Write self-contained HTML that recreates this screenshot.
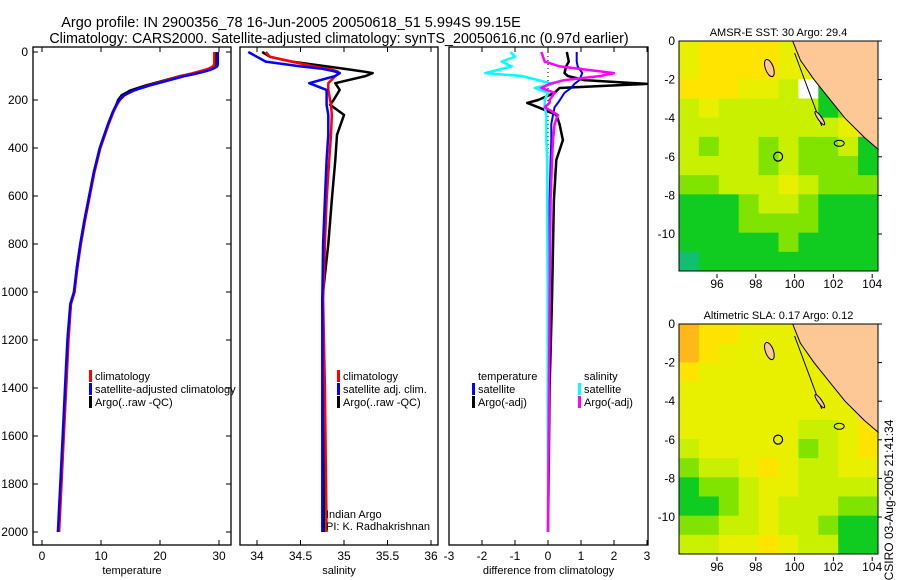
<!DOCTYPE html>
<html><head><meta charset="utf-8"><style>
body{margin:0;background:#fff;}
svg{display:block;font-family:"Liberation Sans",sans-serif;}
</style></head><body>
<svg id="c" width="900" height="580" viewBox="0 0 900 580">
<text x="291" y="27" font-size="14.5" text-anchor="middle">Argo profile: IN 2900356_78 16-Jun-2005 20050618_51 5.994S 99.15E</text>
<text x="339" y="43" font-size="14.3" text-anchor="middle">Climatology: CARS2000. Satellite-adjusted climatology: synTS_20050616.nc (0.97d earlier)</text>
<text transform="translate(893,500) rotate(-90)" font-size="12" text-anchor="middle">CSIRO 03-Aug-2005 21:41:34</text>
<g id="g"></g>
</svg>
<script>
// ---------- data ----------
const tDepth=[0,50,60,70,80,90,100,120,140,160,180,200,220,250,300,400,500,600,700,800,900,1000,1050,1200,1400,1600,1800,2000];
const tempArgo=[29.6,29.6,29.4,28.5,27,25.5,23.5,20.5,17.5,15,13.5,12.9,12.6,12,11.2,9.8,8.8,8.0,7.2,6.5,5.9,5.5,4.9,4.4,4.0,3.6,3.2,2.8];
const tempClim=[29.2,29.2,29.0,28.2,26.8,25.3,23.6,20.8,18,15.6,14,13.2,12.7,12.1,11.3,9.9,8.9,8.1,7.3,6.6,6.0,5.5,4.9,4.5,4.1,3.7,3.3,2.9];
const tempSat=[29.8,29.8,29.7,29.0,27.8,26.2,24.2,21.2,18.2,15.6,13.9,13.1,12.6,12.0,11.2,9.8,8.8,8.0,7.2,6.5,5.9,5.4,4.8,4.3,3.9,3.5,3.1,2.7];
const sDepth=[0,20,40,60,70,80,88,100,130,158,200,220,262,345,450,617,800,1030,1400,2000];
const salArgo=[34.06,34.15,34.4,34.8,35.0,35.2,35.33,35.25,34.9,34.95,34.88,34.84,35.0,34.92,34.9,34.86,34.82,34.75,34.77,34.77];
const salClim=[34.1,34.15,34.4,34.65,34.82,34.92,34.95,34.9,34.82,34.82,34.84,34.85,34.86,34.85,34.83,34.8,34.78,34.76,34.78,34.8];
const salSat=[33.9,34.0,34.1,34.5,34.75,34.88,34.95,34.9,34.6,34.8,34.8,34.8,34.82,34.82,34.8,34.78,34.76,34.75,34.75,34.75];
const dDepth=[0,20,40,60,88,100,117,133,150,170,200,212,230,262,300,367,450,617,1030,1400,2000];
const dTempSat=[0.87,0.87,0.87,0.9,1.04,1.0,0.95,0.8,0.7,0.5,0.36,0.3,0.2,0.15,0.1,0.1,0.08,0.05,0.03,0.02,0.0];
const dTempArgo=[0.57,0.6,0.63,0.55,0.5,0.6,1.1,3.0,0.35,0.2,-0.3,-0.63,-0.3,0.25,0.35,0.45,0.25,0.18,0.12,0.05,0.0];
const dSalSat=[-1.13,-1.0,-1.4,-1.1,-1.9,-0.8,-0.3,0.15,-0.4,0.0,-0.1,-0.1,-0.1,-0.05,-0.05,-0.05,-0.02,-0.02,-0.01,-0.01,0.0];
const dSalArgo=[-0.2,-0.15,-0.1,0.36,2.0,1.6,0.5,0.05,-0.2,0.2,0.05,0.05,-0.1,0.3,0.2,0.15,0.12,0.08,0.05,0.03,0.0];
const tTicks=[0,10,20,30];
const sTicks=[34,34.5,35,35.5,36];
const dTicks=[-3,-2,-1,0,1,2,3];
const depthTicks=[0,200,400,600,800,1000,1200,1400,1600,1800,2000];
const lonTicks=[96,98,100,102,104];
const latTicks=[0,-2,-4,-6,-8,-10];
// map colour-class grids (rows lat 0..-12, cols lon 94.3..104.3); -1 = no data, 9 = land
const sstGrid=[
[4,5,5,5,5,4,-1,-1,9,9],[4,5,5,5,5,4,4,-1,9,9],[5,5,5,4,4,3,-1,1,9,9],[3,4,3,3,3,3,3,1,2,9],
[3,3,3,3,3,3,3,3,4,9],[3,2,3,3,2,3,2,2,3,1],[3,3,3,3,2,3,2,2,2,1],[2,2,3,3,3,4,3,2,2,2],
[1,1,1,2,3,3,2,1,1,1],[1,1,1,2,2,2,2,1,1,1],[1,1,1,1,1,2,1,1,1,1],[0,1,1,1,1,1,1,1,1,1]];
const slaGrid=[
[6,5,5,4,4,4,4,9,9,9],[6,5,4,4,4,4,4,4,9,9],[5,4,4,4,4,4,4,4,9,9],[4,4,4,4,4,4,4,4,4,9],
[4,4,4,4,4,4,4,4,4,9],[4,4,4,4,4,4,3,3,4,5],[3,4,4,4,4,4,2,3,4,5],[2,3,3,4,5,4,3,3,4,4],
[1,2,2,3,4,4,3,3,3,3],[1,1,2,3,4,3,3,3,2,2],[2,2,3,3,4,3,3,2,1,1],[3,3,4,4,5,4,3,3,1,1]];
const palette=['#10c070','#10cc20','#80e400','#c8f000','#e8f000','#ffe400','#ffb818'];
const coastLon=[99.9,100.3,101,101.8,102.6,103.6,104.3];
const coastLat=[0,-1,-2,-3,-4,-5,-5.6];
const floatLon=99.15, floatLat=-5.99;

// ---------- drawing ----------
const NS='http://www.w3.org/2000/svg';
const G=document.getElementById('g');
function mk(tag,at,parent){const e=document.createElementNS(NS,tag);for(const k in at)e.setAttribute(k,at[k]);(parent||G).appendChild(e);return e;}
const yD=d=>52+d*0.24;

function panel(x0,x1,xs,ticks,label,name,showDepth,tickFmt){
  const f=mk('rect',{x:x0,y:47,width:x1-x0,height:498,fill:'none',stroke:'#000','stroke-width':1.3});
  
  
  ticks.forEach(t=>{const x=xs(t);
    mk('line',{x1:x,y1:545,x2:x,y2:540,stroke:'#000'});mk('line',{x1:x,y1:47,x2:x,y2:52,stroke:'#000'});
    const tx=mk('text',{x:x,y:560,'font-size':12,'text-anchor':'middle'});tx.textContent=tickFmt?tickFmt(t):t;
    
    });
  const lb=mk('text',{x:(x0+x1)/2,y:574,'font-size':11,'text-anchor':'middle'});lb.textContent=label;
  
  
  if(showDepth){depthTicks.forEach(d=>{const y=yD(d);
    mk('line',{x1:x0,y1:y,x2:x0+5,y2:y,stroke:'#000'});mk('line',{x1:x1,y1:y,x2:x1-5,y2:y,stroke:'#000'});
    const tx=mk('text',{x:x0-5,y:y+4,'font-size':12,'text-anchor':'end'});tx.textContent=d;
    
    });}
}
function series(xs,depths,vals,col,name,w){
  const pts=depths.map((d,i)=>xs(vals[i]).toFixed(1)+','+yD(d).toFixed(1)).join(' ');
  const p=mk('polyline',{points:pts,fill:'none',stroke:col,'stroke-width':w||2.5,'stroke-linejoin':'round'});
  
  
}
function legend(x,y,items,name){items.forEach((it,i)=>{
  mk('rect',{x:x,y:y+i*13-10,width:3,height:12,fill:it[1]});
  const t=mk('text',{x:x+6,y:y+i*13,'font-size':11});t.textContent=it[0];
  
  });}

// temperature
const xT=t=>42+t*5.9;
panel(33,231,xT,tTicks,'temperature','temperature-panel',true);
series(xT,tDepth,tempArgo,'#000','temp-argo-line');
series(xT,tDepth,tempClim,'#f00','temp-climatology-line');
series(xT,tDepth,tempSat,'#00f','temp-satellite-line');
legend(89,380,[['climatology','#f00'],['satellite-adjusted climatology','#00f'],['Argo(..raw -QC)','#000']],'temp-legend');
// salinity
const xS=s=>257+(s-34)*87;
panel(240,438,xS,sTicks,'salinity','salinity-panel',false);
series(xS,sDepth,salArgo,'#000','sal-argo-line');
series(xS,sDepth,salClim,'#f00','sal-climatology-line');
series(xS,sDepth,salSat,'#00f','sal-satellite-line');
legend(337,380,[['climatology','#f00'],['satellite adj. clim.','#00f'],['Argo(..raw -QC)','#000']],'sal-legend');
const ia=mk('text',{x:326,y:518,'font-size':11});ia.textContent='Indian Argo';


const pi=mk('text',{x:326,y:530,'font-size':11});pi.textContent='PI: K. Radhakrishnan';


// difference
const xDf=v=>548+v*33;
panel(449,648,xDf,dTicks,'difference from climatology','difference-panel',false);
mk('line',{x1:xDf(0),y1:52,x2:xDf(0),y2:532,stroke:'#000','stroke-dasharray':'1,3'});
series(xDf,dDepth,dTempArgo,'#000','diff-temp-argo-line');
series(xDf,dDepth,dTempSat,'#00f','diff-temp-satellite-line',2);
series(xDf,dDepth,dSalSat,'#0ff','diff-sal-satellite-line');
series(xDf,dDepth,dSalArgo,'#f0f','diff-sal-argo-line');
legend(472,380,[['temperature','#fff'],['satellite','#00f'],['Argo(-adj)','#000']],'diff-temp-legend');
legend(578,380,[['salinity','#fff'],['satellite','#0ff'],['Argo(-adj)','#f0f']],'diff-sal-legend');

// maps
function map(top,grid,title,name){
  const L=679,R=878,B=top+230;
  const xL=lon=>717+(lon-96)*19.4, yL=lat=>top-lat*19.3;
  const cw=(R-L)/10, ch=(B-top)/12;
  grid.forEach((row,r)=>row.forEach((v,c)=>{
    const col=v<0?'#fff':v===9?'#fdc896':palette[v];
    const cell=mk('rect',{x:L+c*cw,y:top+r*ch,width:cw+0.5,height:ch+0.5,fill:col});
    
    }));
  let pts=coastLon.map((lo,i)=>xL(lo)+','+yL(coastLat[i])).join(' ');
  const land=mk('polygon',{points:pts+' '+R+','+yL(-5.6)+' '+R+','+top,fill:'#fdc896',stroke:'#000','stroke-width':1});
  
  
  mk('line',{x1:xL(100),y1:top+12,x2:xL(101.4),y2:yL(-4.4),stroke:'#000'});
  mk('ellipse',{cx:xL(98.7),cy:yL(-1.4),rx:4,ry:9,fill:'#fdc896',stroke:'#000',transform:`rotate(-20 ${xL(98.7)} ${yL(-1.4)})`});
  mk('ellipse',{cx:xL(102.3),cy:yL(-5.3),rx:5,ry:3,fill:'none',stroke:'#000'});
  mk('ellipse',{cx:xL(101.3),cy:yL(-4.0),rx:2,ry:8,fill:'#fdc896',stroke:'#000',transform:`rotate(-35 ${xL(101.3)} ${yL(-4.0)})`});
  const m=mk('circle',{cx:xL(floatLon),cy:yL(floatLat),r:4.5,fill:'none',stroke:'#000','stroke-width':1.2});
  
  
  mk('rect',{x:L,y:top,width:R-L,height:B-top,fill:'none',stroke:'#000'});
  lonTicks.forEach(lo=>{const x=xL(lo);mk('line',{x1:x,y1:B+3,x2:x,y2:B+7,stroke:'#000'});
    const t=mk('text',{x:x,y:B+17,'font-size':12,'text-anchor':'middle'});t.textContent=lo;
    
    });
  latTicks.forEach(la=>{const y=yL(la);mk('line',{x1:R,y1:y,x2:R+4,y2:y,stroke:'#000'});
    const t=mk('text',{x:L-4,y:y+4,'font-size':12,'text-anchor':'end'});t.textContent=la;
    
    });
  const tt=mk('text',{x:(L+R)/2,y:top-5,'font-size':11,'text-anchor':'middle'});tt.textContent=title;
  
  
}
map(41,sstGrid,'AMSR-E SST: 30 Argo: 29.4','sst-map');
map(324,slaGrid,'Altimetric SLA: 0.17 Argo: 0.12','sla-map');
</script>
</body></html>
